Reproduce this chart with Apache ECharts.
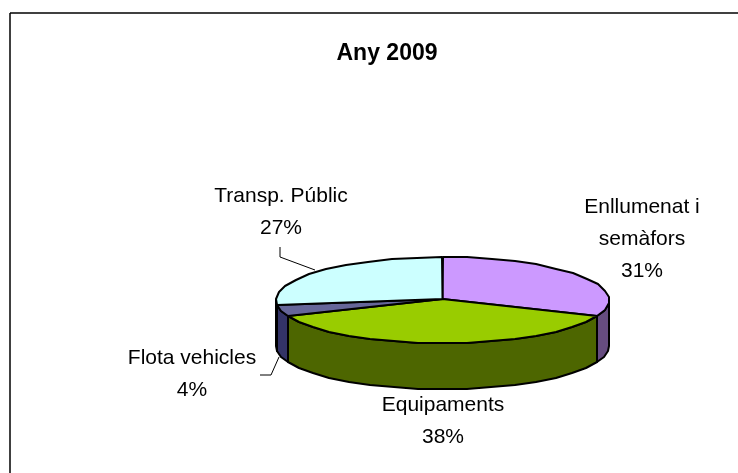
<!DOCTYPE html>
<html>
<head>
<meta charset="utf-8">
<style>
  html, body { margin: 0; padding: 0; background: #fff; }
  #main { width: 738px; height: 473px; }
</style>
<script src="https://cdn.jsdelivr.net/npm/echarts@6/dist/echarts.min.js"></script>
</head>
<body>
<div id="main"></div>
<script>
const categories = ['Enllumenat i\nsemàfors', 'Equipaments', 'Flota vehicles', 'Transp. Públic'];
const shares = [31, 38, 4, 27];
const topColors = ['#cc99ff', '#99cc00', '#666699', '#ccffff'];
const wallColors = ['#664c80', '#4d6600', '#333366', '#668080'];

// label anchor, centre of the text block
const labelPos = [[642, 239], [443, 421], [192, 374], [281, 212]];
// leader lines, only two slices have one
const leaders = [null, null, [[260, 375], [271, 375], [279, 357]], [[280, 247], [280, 257], [315, 270]]];

// tilted disc of the 3D pie
const cx = 442.5, cy = 300, rx = 166.5, ry = 43, depth = 46;
const stepDeg = 9; // the outline of the original is a coarse polygon

const total = shares.reduce((a, b) => a + b, 0);

function rimPoints(from, to, dy) {
  const pts = [];
  const n = Math.max(1, Math.ceil((to - from) / stepDeg));
  for (let i = 0; i <= n; i++) {
    const a = (from + (to - from) * i / n) * Math.PI / 180;
    pts.push([Math.round(cx + rx * Math.sin(a)), Math.round(cy - ry * Math.cos(a) + dy)]);
  }
  return pts;
}

function renderSlice(params, api) {
  const idx = params.dataIndex;
  let before = 0;
  for (let i = 0; i < idx; i++) before += shares[i];
  const start = before / total * 360;
  const end = (before + api.value(0)) / total * 360;
  const line = { stroke: '#000', lineWidth: 2, lineJoin: 'round' };
  const children = [];

  // front wall, only the part between 90 and 270 degrees shows
  const wFrom = Math.max(start, 90), wTo = Math.min(end, 270);
  if (wTo > wFrom) {
    const upper = rimPoints(wFrom, wTo, 0);
    const lower = rimPoints(wFrom, wTo, depth).reverse();
    children.push({
      type: 'polygon',
      shape: { points: upper.concat(lower) },
      style: Object.assign({ fill: wallColors[idx] }, line)
    });
  }

  // top face
  children.push({
    type: 'polygon',
    shape: { points: [[cx, cy - 1]].concat(rimPoints(start, end, 0)) },
    style: Object.assign({ fill: topColors[idx] }, line)
  });

  if (leaders[idx]) {
    children.push({
      type: 'polyline',
      shape: { points: leaders[idx] },
      style: { stroke: '#000', lineWidth: 1, fill: null }
    });
  }

  children.push({
    type: 'text',
    x: labelPos[idx][0],
    y: labelPos[idx][1],
    style: {
      text: categories[idx] + '\n' + shares[idx] + '%',
      fill: '#000',
      font: '21px "Liberation Sans", Arial, sans-serif',
      lineHeight: 32,
      align: 'center',
      verticalAlign: 'middle'
    }
  });

  return { type: 'group', children: children };
}

const chart = echarts.init(document.getElementById('main'), null, { renderer: 'canvas' });
chart.setOption({
  animation: false,
  backgroundColor: '#fff',
  title: {
    text: 'Any 2009',
    left: 382,
    top: 37,
    textAlign: 'center',
    textStyle: {
      fontFamily: '"Liberation Sans", Arial, sans-serif',
      fontSize: 23,
      fontWeight: 'bold',
      color: '#000'
    }
  },
  graphic: [
    { type: 'line', shape: { x1: 10, y1: 13, x2: 738, y2: 13 }, style: { stroke: '#000', lineWidth: 1.5 } },
    { type: 'line', shape: { x1: 10, y1: 13, x2: 10, y2: 473 }, style: { stroke: '#000', lineWidth: 1.5 } }
  ],
  series: [{
    type: 'custom',
    coordinateSystem: 'none',
    renderItem: renderSlice,
    data: shares.map(v => [v])
  }]
});
</script>
</body>
</html>
